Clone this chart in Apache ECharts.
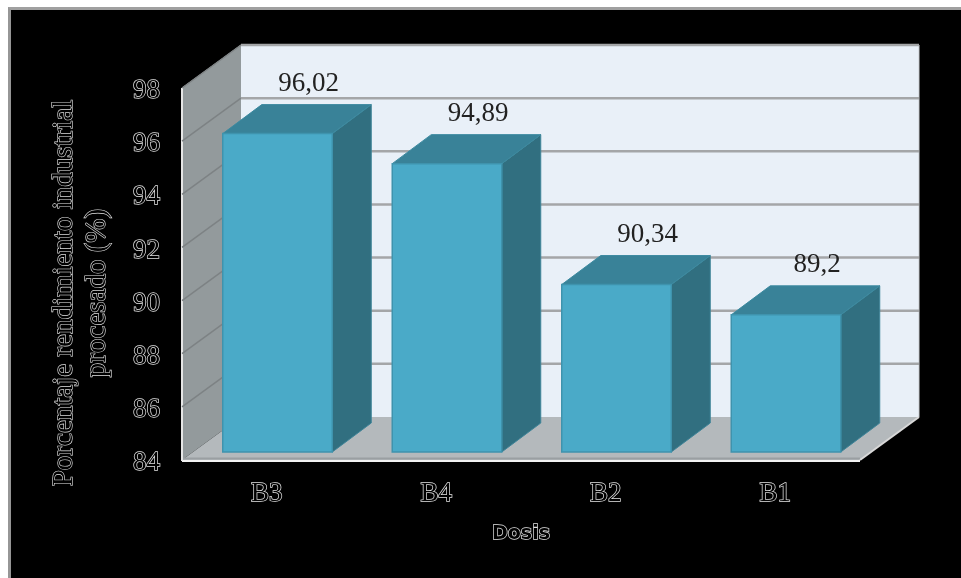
<!DOCTYPE html>
<html><head><meta charset="utf-8">
<style>
html,body{margin:0;padding:0;background:#fff;width:961px;height:578px;overflow:hidden}
#frame{position:absolute;left:8px;top:7px;width:950px;height:568px;background:#000;border-left:3px solid #969696;border-top:3px solid #a0a0a0}
#chart{position:absolute;left:0;top:0;width:961px;height:578px}
</style>
<script src="https://cdn.jsdelivr.net/npm/echarts@6/dist/echarts.min.js"></script>
</head><body>
<div id="frame"></div>
<div id="chart"></div>
<script>
const categories = ['B3', 'B4', 'B2', 'B1'];
const values = [96.02, 94.89, 90.34, 89.2];
const valueLabels = ['96,02', '94,89', '90,34', '89,2'];
const yTicks = [84, 86, 88, 90, 92, 94, 96, 98];
const yTitle = 'Porcentaje rendimiento industrial\nprocesado (%)';
const xTitle = 'Dosis';

const wall = { dx: 59, dy: -43 };      // depth of the chamber
const bar = { dx: 39, dy: -29, shiftX: 10.75, shiftTop: -7, shiftBase: -8, width: 109.5 };
const serif = '"Liberation Serif", serif';

function poly(points, fill, stroke, lineWidth) {
  return { type: 'polygon', shape: { points }, style: { fill, stroke: stroke || null, lineWidth: lineWidth || 0 } };
}
function line(x1, y1, x2, y2, stroke, lineWidth) {
  return { type: 'line', shape: { x1, y1, x2, y2 }, style: { stroke, lineWidth } };
}

const chart = echarts.init(document.getElementById('chart'), null, { renderer: 'canvas' });
chart.setOption({
  backgroundColor: 'transparent',
  animation: false,
  grid: { left: 182, right: 101, top: 88, bottom: 118 },
  xAxis: {
    type: 'category', data: categories,
    axisLine: { show: false }, axisTick: { show: false }, splitLine: { show: false },
    axisLabel: { margin: 20, fontFamily: serif, fontSize: 27, color: '#000', textBorderColor: '#e2e2e2', textBorderWidth: 1.4 },
    name: xTitle, nameLocation: 'middle', nameGap: 65,
    nameTextStyle: { fontFamily: '"DejaVu Sans", sans-serif', fontSize: 19, fontWeight: 'bold', color: '#000', textBorderColor: '#e2e2e2', textBorderWidth: 1.4 }
  },
  yAxis: {
    type: 'value', min: 84, max: 98, interval: 2,
    axisLine: { show: false }, axisTick: { show: false }, splitLine: { show: false },
    axisLabel: { margin: 22, verticalAlign: 'top', lineHeight: 6, fontFamily: serif, fontSize: 27, color: '#000', textBorderColor: '#e2e2e2', textBorderWidth: 1.4 },
    name: yTitle, nameLocation: 'middle', nameGap: 68, nameRotate: 90,
    nameTextStyle: { fontFamily: serif, fontSize: 29, lineHeight: 33, color: '#000', textBorderColor: '#e2e2e2', textBorderWidth: 1.2, padding: [0, 38, 0, 0], align: 'center' }
  },
  series: [
    {
      type: 'custom', name: 'chamber', z: 1, silent: true, data: [0], encode: { x: -1, y: -1 },
      renderItem(params) {
        const c = params.coordSys;
        const L = c.x, R = c.x + c.width, T = c.y, B = c.y + c.height;
        const d = wall;
        return { type: 'group', children: [
          poly([[L + d.dx, T + d.dy], [R + d.dx, T + d.dy], [R + d.dx, B + d.dy], [L + d.dx, B + d.dy]], '#e9f0f8'),
          poly([[L, T], [L + d.dx, T + d.dy], [L + d.dx, B + d.dy], [L, B]], '#939a9c'),
          poly([[L, B], [L + d.dx, B + d.dy], [R + d.dx, B + d.dy], [R, B]], '#b4b9bc'),
          line(L, B - 1.5, R, B - 1.5, '#9a9fa2', 2),
          line(L, B + 1, R, B + 1, '#f2f2f2', 2),
          line(R, B, R + d.dx, B + d.dy, '#d8d8d8', 2),
          line(L, T, L, B + 1, '#e6e6e6', 2),
          line(L, T, L + d.dx, T + d.dy, '#b0b0b0', 1),
          line(R + d.dx, T + d.dy, R + d.dx, B + d.dy, '#c8ccd0', 1)
        ] };
      }
    },
    {
      type: 'custom', name: 'gridLines', z: 2, silent: true, data: yTicks.slice(1).map(v => [0, v]),
      encode: { x: 0, y: 1 },
      renderItem(params, api) {
        const c = params.coordSys;
        const y = api.coord([0, api.value(1)])[1];
        const L = c.x, R = c.x + c.width, d = wall;
        return { type: 'group', children: [
          line(L, y, L + d.dx, y + d.dy, '#7d8284', 1.5),
          line(L + d.dx, y + d.dy, R + d.dx, y + d.dy, '#a4a6a8', 2.5)
        ] };
      }
    },
    {
      type: 'custom', name: 'Porcentaje', z: 3, silent: true,
      data: values.map((v, i) => [i, v, valueLabels[i]]),
      encode: { x: 0, y: 1 },
      renderItem(params, api) {
        const i = api.value(0), v = api.value(1);
        const top = api.coord([i, v]);
        const base = api.coord([i, yTicks[0]]);
        const x0 = top[0] + bar.shiftX - bar.width / 2, x1 = x0 + bar.width;
        const yT = top[1] + bar.shiftTop, yB = base[1] + bar.shiftBase;
        const dx = bar.dx, dy = bar.dy, edge = '#3f93ad';
        return { type: 'group', children: [
          poly([[x1, yT], [x1 + dx, yT + dy], [x1 + dx, yB + dy], [x1, yB]], '#316f80', '#3f8498', 1),
          poly([[x0, yT], [x0 + dx, yT + dy], [x1 + dx, yT + dy], [x1, yT]], '#398298', '#3c8aa0', 1),
          poly([[x0, yT], [x1, yT], [x1, yB], [x0, yB]], '#4aaac8', edge, 1.5),
          { type: 'text', style: {
              x: (x0 + x1) / 2 + 31, y: yT + dy - 21,
              text: valueLabels[params.dataIndex],
              align: 'center', verticalAlign: 'middle',
              fontFamily: serif, fontSize: 27, fill: '#222'
          } }
        ] };
      }
    }
  ]
});
</script>
</body></html>
